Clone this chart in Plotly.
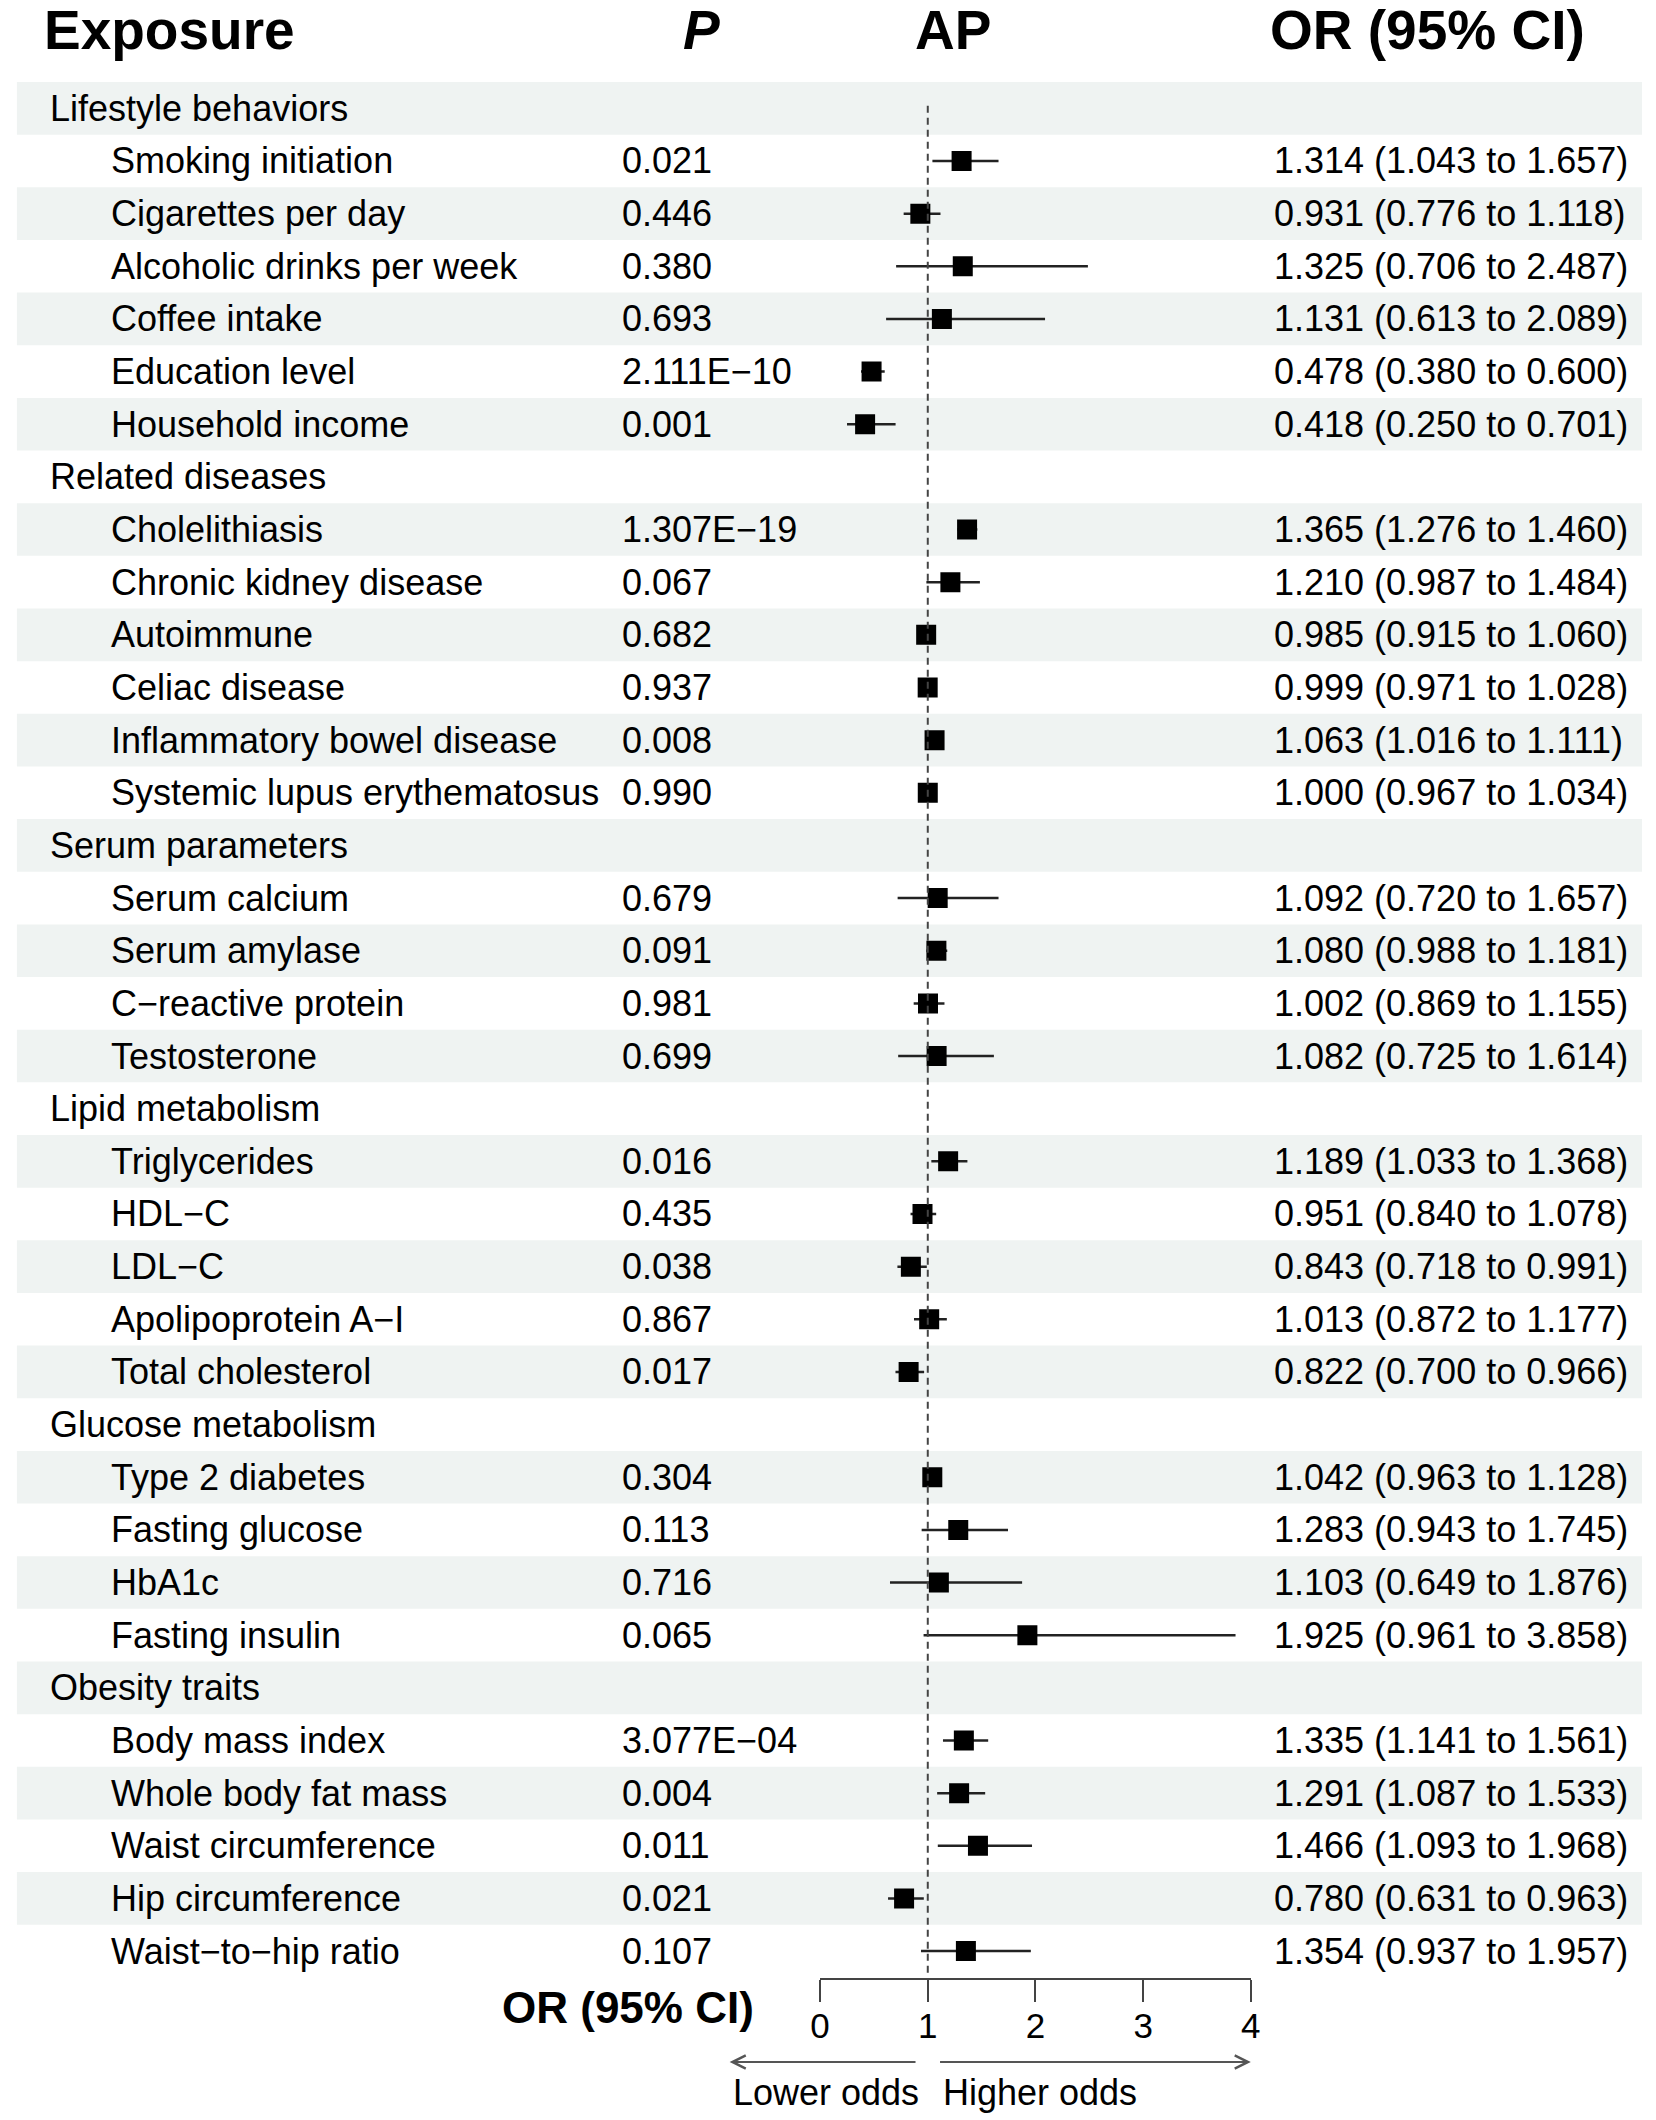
import plotly.graph_objects as go

# Forest plot: exposures vs AP, odds ratios with 95% CI

groups = ["Lifestyle behaviors", "Related diseases", "Serum parameters",
          "Lipid metabolism", "Glucose metabolism", "Obesity traits"]
group_sizes = [6, 6, 4, 5, 4, 5]

exposures = [
    "Smoking initiation", "Cigarettes per day", "Alcoholic drinks per week",
    "Coffee intake", "Education level", "Household income",
    "Cholelithiasis", "Chronic kidney disease", "Autoimmune", "Celiac disease",
    "Inflammatory bowel disease", "Systemic lupus erythematosus",
    "Serum calcium", "Serum amylase", "C\u2212reactive protein", "Testosterone",
    "Triglycerides", "HDL\u2212C", "LDL\u2212C", "Apolipoprotein A\u2212I", "Total cholesterol",
    "Type 2 diabetes", "Fasting glucose", "HbA1c", "Fasting insulin",
    "Body mass index", "Whole body fat mass", "Waist circumference",
    "Hip circumference", "Waist\u2212to\u2212hip ratio",
]
p_values = [
    "0.021", "0.446", "0.380", "0.693", "2.111E\u221210", "0.001",
    "1.307E\u221219", "0.067", "0.682", "0.937", "0.008", "0.990",
    "0.679", "0.091", "0.981", "0.699",
    "0.016", "0.435", "0.038", "0.867", "0.017",
    "0.304", "0.113", "0.716", "0.065",
    "3.077E\u221204", "0.004", "0.011", "0.021", "0.107",
]
odds_ratio = [1.314, 0.931, 1.325, 1.131, 0.478, 0.418,
              1.365, 1.210, 0.985, 0.999, 1.063, 1.000,
              1.092, 1.080, 1.002, 1.082,
              1.189, 0.951, 0.843, 1.013, 0.822,
              1.042, 1.283, 1.103, 1.925,
              1.335, 1.291, 1.466, 0.780, 1.354]
ci_low = [1.043, 0.776, 0.706, 0.613, 0.380, 0.250,
          1.276, 0.987, 0.915, 0.971, 1.016, 0.967,
          0.720, 0.988, 0.869, 0.725,
          1.033, 0.840, 0.718, 0.872, 0.700,
          0.963, 0.943, 0.649, 0.961,
          1.141, 1.087, 1.093, 0.631, 0.937]
ci_high = [1.657, 1.118, 2.487, 2.089, 0.600, 0.701,
           1.460, 1.484, 1.060, 1.028, 1.111, 1.034,
           1.657, 1.181, 1.155, 1.614,
           1.368, 1.078, 0.991, 1.177, 0.966,
           1.128, 1.745, 1.876, 3.858,
           1.561, 1.533, 1.968, 0.963, 1.957]
x_ticks = [0, 1, 2, 3, 4]

W, H = 1656, 2120
ROW_TOP, ROW_H = 82, 52.65
AXIS_Y = 1978
FONT = "Liberation Sans, Arial, sans-serif"
BAND = "#eff3f2"


def px(x):
    return x / W


def py(y):
    return 1 - y / H


# build table rows: group header followed by its exposures
rows = []
k = 0
for g, n in zip(groups, group_sizes):
    rows.append(("group", g, None))
    for _ in range(n):
        rows.append(("item", exposures[k], k))
        k += 1

row_y = list(range(len(rows)))
item_y = [i for i, r in enumerate(rows) if r[0] == "item"]

fig = go.Figure()

fig.add_trace(go.Scatter(
    x=odds_ratio, y=item_y, mode="markers",
    marker=dict(symbol="square", size=20, color="black"),
    error_x=dict(type="data", symmetric=False,
                 array=[h - o for h, o in zip(ci_high, odds_ratio)],
                 arrayminus=[o - l for o, l in zip(odds_ratio, ci_low)],
                 width=0, thickness=2.5, color="#222222"),
    hoverinfo="skip", showlegend=False,
))

shapes = []
for i in row_y:
    if i % 2 == 0:
        shapes.append(dict(type="rect", xref="paper", yref="y", layer="below",
                           x0=px(7), x1=px(1652), y0=i - 0.5, y1=i + 0.5,
                           fillcolor=BAND, line=dict(width=0)))
shapes.append(dict(type="line", xref="x", yref="y", x0=1, x1=1,
                   y0=-0.05, y1=len(rows) - 0.5,
                   line=dict(color="#444444", width=2, dash="7px,5px")))

annotations = []
txt = dict(font=dict(family=FONT, size=36, color="black"), showarrow=False,
           xanchor="left", yanchor="middle", xref="paper", yref="y")
for i, (kind, label, idx) in enumerate(rows):
    if kind == "group":
        annotations.append(dict(x=px(38), y=i, text=label, **txt))
    else:
        annotations.append(dict(x=px(100), y=i, text=label, **txt))
        annotations.append(dict(x=px(617), y=i, text=p_values[idx], **txt))
        or_text = f"{odds_ratio[idx]:.3f} ({ci_low[idx]:.3f} to {ci_high[idx]:.3f})"
        annotations.append(dict(x=px(1277), y=i, text=or_text, **txt))

head = dict(font=dict(family=FONT, size=55, color="black"), showarrow=False,
            yanchor="middle", xref="paper", yref="paper", y=py(30))
annotations.append(dict(x=px(32), xanchor="left", text="<b>Exposure</b>", **head))
annotations.append(dict(x=px(700), xanchor="center", text="<b><i>P</i></b>", **head))
annotations.append(dict(x=px(955), xanchor="center", text="<b>AP</b>", **head))
annotations.append(dict(x=px(1435), xanchor="center", text="<b>OR (95% CI)</b>", **head))

# bottom axis caption and direction arrows
annotations.append(dict(x=px(496), y=py(2007), xref="paper", yref="paper",
                        xanchor="left", yanchor="middle", showarrow=False,
                        text="<b>OR (95% CI)</b>",
                        font=dict(family=FONT, size=44, color="black")))
arrow = dict(xref="x", yref="paper", axref="x", ayref="pixel", ay=0, text="",
             showarrow=True, arrowhead=5, arrowsize=1.3, arrowwidth=2,
             arrowcolor="#555555", standoff=0, startstandoff=0, y=py(2062))
annotations.append(dict(x=-0.84, ax=0.9, **arrow))
annotations.append(dict(x=4.0, ax=1.1, **arrow))
lab = dict(xref="paper", yref="paper", xanchor="left", yanchor="middle",
           showarrow=False, y=py(2092), font=dict(family=FONT, size=36, color="black"))
annotations.append(dict(x=px(730), text="Lower odds", **lab))
annotations.append(dict(x=px(942), text="Higher odds", **lab))

# y range so that row i is centred at ROW_TOP + (i + 0.5) * ROW_H pixels
y_top = (0 - ROW_TOP) / ROW_H - 0.5
y_bot = (AXIS_Y - ROW_TOP) / ROW_H - 0.5

fig.update_layout(
    width=W, height=H,
    margin=dict(l=0, r=0, t=0, b=0),
    paper_bgcolor="white", plot_bgcolor="rgba(0,0,0,0)",
    shapes=shapes, annotations=annotations,
    font=dict(family=FONT, color="black"),
    xaxis=dict(range=[0, 4], domain=[px(820), px(1256)],
               tickvals=x_ticks, ticktext=[str(t) for t in x_ticks],
               showline=True, linecolor="#444444", linewidth=2,
               ticks="outside", ticklen=22, tickwidth=2, tickcolor="#444444",
               ticklabelstandoff=-6,
               tickfont=dict(family=FONT, size=35, color="black"),
               showgrid=False, zeroline=False, fixedrange=True),
    yaxis=dict(range=[y_bot, y_top], domain=[1 - AXIS_Y / H, 1],
               visible=False, showgrid=False, zeroline=False, fixedrange=True),
)

# drop the default page margin so the figure sits flush with the window
fig.write_html("out.html", config={"displayModeBar": False},
               post_script="document.body.style.margin='0';"
                           "document.body.style.overflow='hidden';")
